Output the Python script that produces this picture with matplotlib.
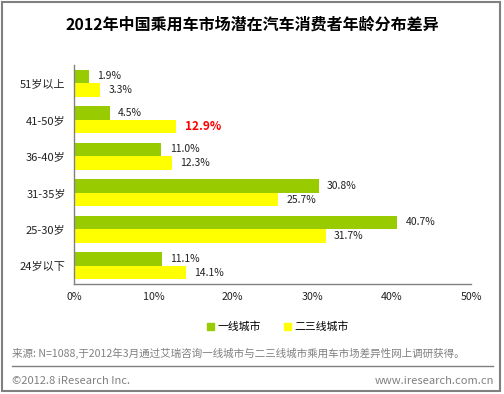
import numpy as np
import matplotlib.pyplot as plt
from matplotlib.patches import Rectangle, Patch
from matplotlib.lines import Line2D

plt.rcParams['font.family'] = ['Noto Sans CJK SC', 'DejaVu Sans']

ages = ['51岁以上', '41-50岁', '36-40岁', '31-35岁', '25-30岁', '24岁以下']
tier1 = [1.9, 4.5, 11.0, 30.8, 40.7, 11.1]
tier23 = [3.3, 12.9, 12.3, 25.7, 31.7, 14.1]
ticks = [0, 10, 20, 30, 40, 50]

green = '#99CC00'
yellow = '#FFFF00'
gray = '#808080'

fig = plt.figure(figsize=(5.04, 3.94), dpi=100)
ax = fig.add_axes([74 / 504, 110 / 394, 397 / 504, 219 / 394])

y = np.arange(len(ages))
h = 0.37
ax.barh(y - h / 2, tier1, height=h, color=green, label='一线城市')
ax.barh(y + h / 2, tier23, height=h, color=yellow, label='二三线城市')

for i in range(len(ages)):
    ax.annotate('%.1f%%' % tier1[i], (tier1[i], y[i] - h / 2), xytext=(6, 0),
                textcoords='offset points', va='center', fontsize=7.5, color='#222222')
    c = '#FF0000' if ages[i] == '41-50岁' else '#222222'
    w = 'bold' if ages[i] == '41-50岁' else 'normal'
    ax.annotate('%.1f%%' % tier23[i], (tier23[i], y[i] + h / 2), xytext=(6, 0),
                textcoords='offset points', va='center', fontsize=7.5 if w == 'normal' else 8.5,
                color=c, fontweight=w)

ax.set_xlim(0, 50)
ax.set_ylim(len(ages) - 0.5, -0.5)
ax.set_xticks(ticks)
ax.set_xticklabels([str(t) + '%' for t in ticks], fontsize=7.7, color='#222222')
ax.set_yticks(y)
ax.set_yticklabels(ages, fontsize=8, color='#222222')
ax.tick_params(length=0)
ax.tick_params(axis='x', pad=6)
ax.tick_params(axis='y', pad=6)
for s in ['top', 'right']:
    ax.spines[s].set_visible(False)
for s in ['left', 'bottom']:
    ax.spines[s].set_color(gray)
    ax.spines[s].set_linewidth(1)

handles = [Patch(color=green, label='一线城市'), Patch(color=yellow, label='二三线城市')]
fig.legend(handles=handles, loc='center', bbox_to_anchor=(278 / 504, 1 - 327 / 394), ncol=2,
           frameon=False, fontsize=7.8, handlelength=0.6, handleheight=0.6,
           handletextpad=0.3, columnspacing=2.2)

fig.text(252 / 504, 1 - 25 / 394, '2012年中国乘用车市场潜在汽车消费者年龄分布差异',
         ha='center', va='center', fontsize=11.5, fontweight='bold', color='black')
fig.text(12 / 504, 1 - 353 / 394,
         '来源: N=1088,于2012年3月通过艾瑞咨询一线城市与二三线城市乘用车市场差异性网上调研获得。',
         ha='left', va='center', fontsize=7.6, color=gray)
fig.add_artist(Line2D([12 / 504, 493 / 504], [1 - 366 / 394, 1 - 366 / 394],
                      transform=fig.transFigure, color=gray, linewidth=1))
fig.text(12 / 504, 1 - 381 / 394, '©2012.8 iResearch Inc.', ha='left', va='center',
         fontsize=8, color=gray)
fig.text(494 / 504, 1 - 381 / 394, 'www.iresearch.com.cn', ha='right', va='center',
         fontsize=8, color=gray)

fig.add_artist(Rectangle((2 / 504, 3 / 394), 498 / 504, 389 / 394, transform=fig.transFigure,
                         fill=False, edgecolor=gray, linewidth=1.5))

fig.savefig('out.png', dpi=100)
